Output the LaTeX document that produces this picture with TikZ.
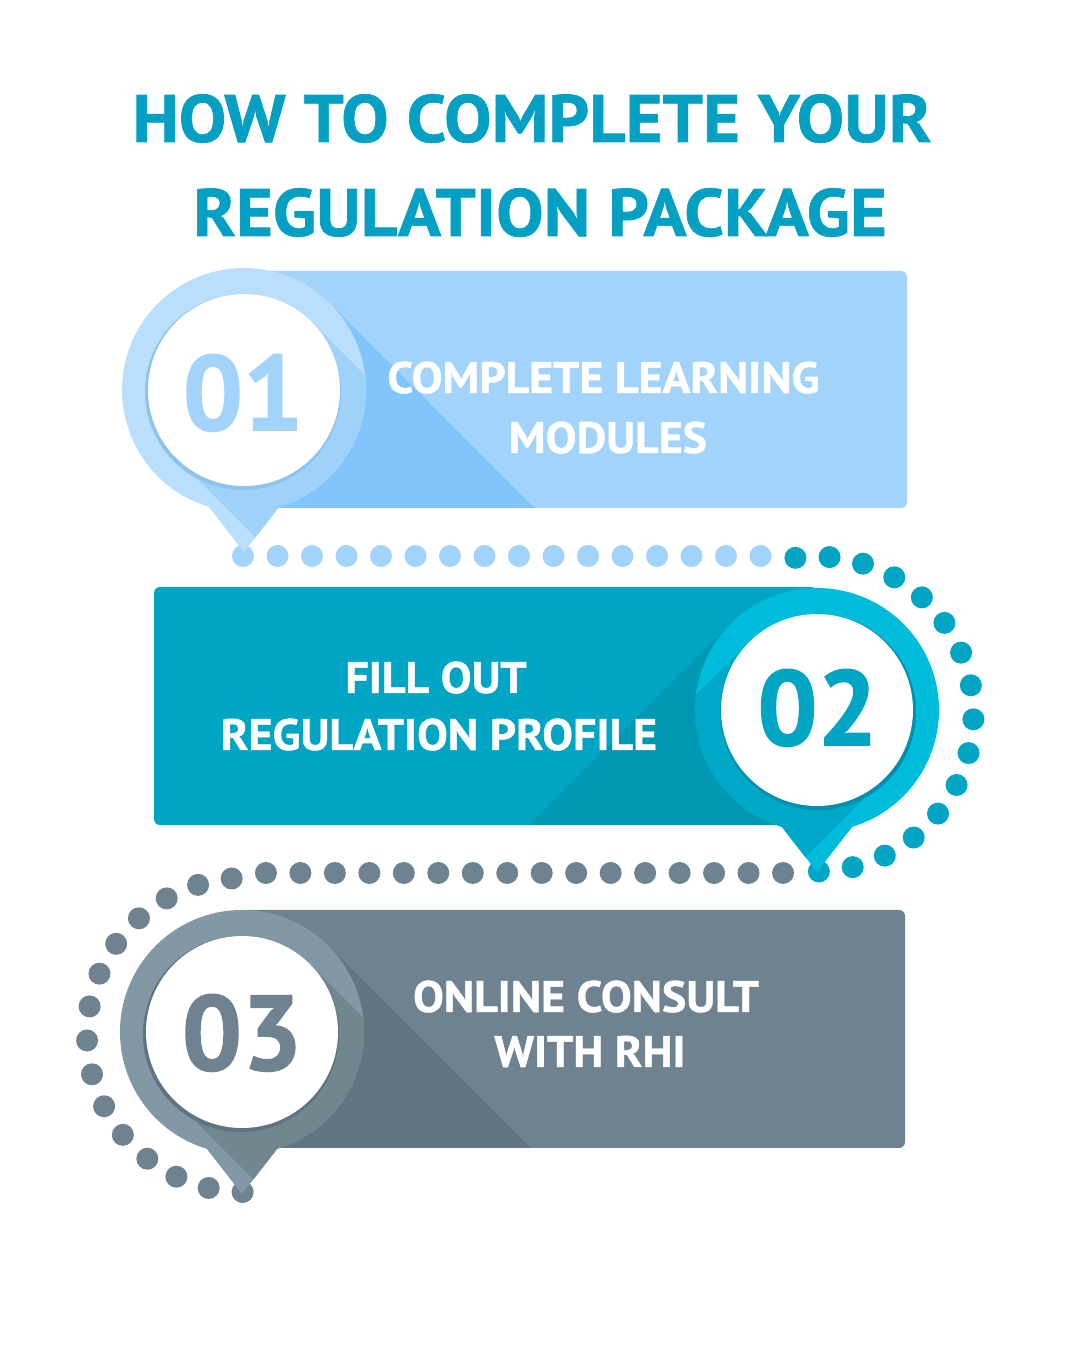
\documentclass[tikz,border=0pt]{standalone}
\usepackage{fontspec}
\setmainfont{PT Sans}
\newfontfamily\titlefont{PT Sans}[BoldFeatures={FakeStretch=1.06,FakeBold=1}]
\newfontfamily\bodyfont{PT Sans}[BoldFeatures={FakeStretch=1.045,FakeBold=1}]
\newfontfamily\numfont{PT Sans}[BoldFeatures={FakeBold=1.5}]
\definecolor{titlecol}{HTML}{03A0C4}
\definecolor{cAbox}{HTML}{A2D3FB}
\definecolor{cAsh}{HTML}{82C5FC}
\definecolor{cAring}{HTML}{BADFFC}
\definecolor{cAringsh}{HTML}{9FD2F9}
\definecolor{cArim}{HTML}{8DC3EC}
\definecolor{cBbox}{HTML}{00A5C4}
\definecolor{cBsh}{HTML}{0097B3}
\definecolor{cBring}{HTML}{00BCDB}
\definecolor{cBringsh}{HTML}{00A8C7}
\definecolor{cBrim}{HTML}{0090AD}
\definecolor{cCbox}{HTML}{6E838F}
\definecolor{cCsh}{HTML}{627682}
\definecolor{cCring}{HTML}{8298A5}
\definecolor{cCringsh}{HTML}{72868F}
\definecolor{cCrim}{HTML}{5F7380}
\tikzset{
  titletext/.style={text=titlecol, font=\titlefont\bfseries\fontsize{67}{70}\selectfont, anchor=base, inner sep=0pt},
  bodytext/.style={text=white, font=\bodyfont\bfseries\fontsize{44}{50}\selectfont, anchor=base, inner sep=0pt},
  numtext/.style={font=\numfont\bfseries\fontsize{106}{110}\selectfont, anchor=base, inner sep=0pt},
  pics/mypin/.style n args={3}{code={
    \begin{scope}
      \clip (0,-162) -- (253.2:122) arc[start angle=253.2, end angle=-73.2, radius=122] -- cycle;
      \fill[#1] (-200,-200) rectangle (200,200);
      \fill[#2] (67.9,67.9) -- (367.9,-232.1) -- (232.1,-367.9) -- (-67.9,-67.9) -- cycle;
    \end{scope}
    \fill[#3] (-1,-2) circle (98);
    \fill[white] (0,0) circle (96);
  }}
}
\begin{document}
\begin{tikzpicture}[x=1pt,y=1pt]
\useasboundingbox (0,0) rectangle (1080,1350);
\fill[white] (0,0) rectangle (1080,1350);

% title
\node[titletext] (t1) at (532,1208) {HOW TO COMPLETE YOUR};
\node[titletext] (t2) at (540,1114) {REGULATION PACKAGE};

% dots
\foreach \i in {0,...,15} \fill[cAbox] (243+34.5*\i,794) circle (11);
\foreach \k in {0,...,15} \fill[cBbox] ([shift={(816,636)}]{97.5-12.43*\k}:157.5) circle (11);
\foreach \i in {0,...,15} \fill[cCbox] (783-34.47*\i,477) circle (11);
\foreach \k in {0,...,14} \fill[cCbox] ([shift={(244,315)}]{94.5+12.5*\k}:157) circle (11);

% box 1
\fill[cAbox, rounded corners=6pt] (244,842) rectangle (907,1079);
\begin{scope}
  \clip[rounded corners=6pt] (244,842) rectangle (907,1079);
  \fill[cAsh] (330.3,1046.3) -- (830.3,546.3) -- (657.7,373.7) -- (157.7,873.7) -- cycle;
\end{scope}
\pic at (244,960) {mypin={cAring}{cAringsh}{cArim}};
\node[numtext, text=cAbox] (n1) at (243,920) {01};
\node[bodytext] (a1) at (603.5,957) {COMPLETE LEARNING};
\node[bodytext] (a2) at (608,897) {MODULES};

% box 2
\fill[cBbox, rounded corners=6pt] (154,525) rectangle (817,763);
\begin{scope}
  \clip[rounded corners=6pt] (154,525) rectangle (817,763);
  \fill[cBsh] (730.7,726.3) -- (230.7,226.3) -- (403.3,53.7) -- (903.3,553.7) -- cycle;
\end{scope}
\pic[xscale=-1] at (817,640) {mypin={cBring}{cBringsh}{cBrim}};
\node[numtext, text=cBbox] (n2) at (817.5,605) {02};
\node[bodytext] (b1) at (436,657) {FILL OUT};
\node[bodytext] (b2) at (439,600) {REGULATION PROFILE};

% box 3
\fill[cCbox, rounded corners=6pt] (242,202) rectangle (905,440);
\begin{scope}
  \clip[rounded corners=6pt] (242,202) rectangle (905,440);
  \fill[cCsh] (328.3,404.3) -- (828.3,-95.7) -- (655.7,-268.3) -- (155.7,231.7) -- cycle;
\end{scope}
\pic at (242,318) {mypin={cCring}{cCringsh}{cCrim}};
\node[numtext, text=cCbox] (n3) at (242,280) {03};
\node[bodytext] (c1) at (586,338) {ONLINE CONSULT};
\node[bodytext] (c2) at (590,283) {WITH RHI};
\end{tikzpicture}
\end{document}
